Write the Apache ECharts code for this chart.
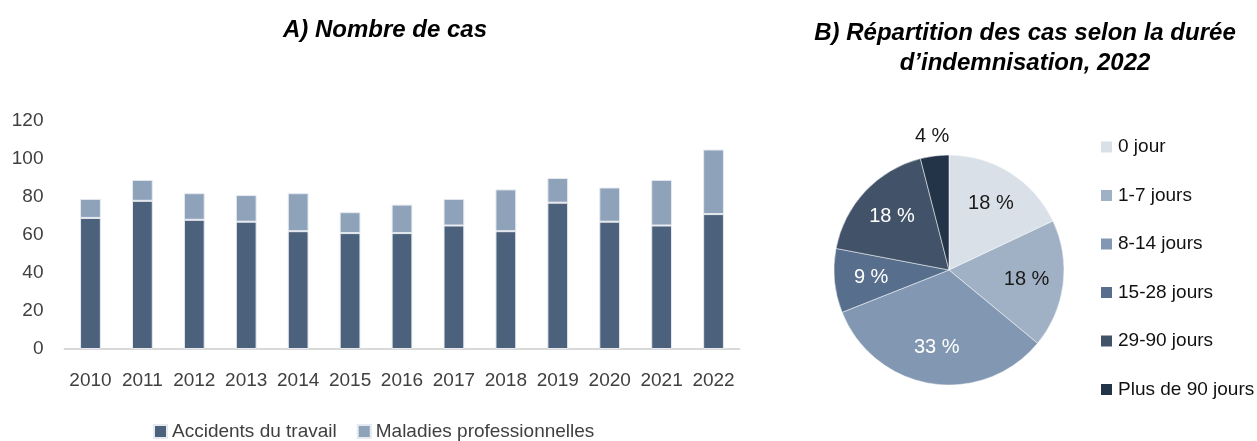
<!DOCTYPE html>
<html>
<head>
<meta charset="utf-8">
<script src="https://cdn.jsdelivr.net/npm/echarts@6/dist/echarts.min.js"></script>
<style>
html, body { margin: 0; padding: 0; background: #fff; }
#chart { width: 1257px; height: 441px; }
</style>
</head>
<body>
<div id="chart"></div>
<script>
// A) nombre de cas
const years = ['2010', '2011', '2012', '2013', '2014', '2015', '2016', '2017', '2018', '2019', '2020', '2021', '2022'];
const accidents = [69, 78, 68, 67, 62, 61, 61, 65, 62, 77, 67, 65, 71];
const maladies = [10, 11, 14, 14, 20, 11, 15, 14, 22, 13, 18, 24, 34];

// B) répartition 2022
const durees = ['0 jour', '1-7 jours', '8-14 jours', '15-28 jours', '29-90 jours', 'Plus de 90 jours'];
const parts = [18, 18, 33, 9, 18, 4];

const FONT = '"Liberation Sans", Arial, sans-serif';
const pieColors = ['#dae0e8', '#a0b1c5', '#8298b2', '#576e8d', '#425269', '#233348'];
const labelColors = ['#1a1a1a', '#1a1a1a', '#ffffff', '#ffffff', '#ffffff', '#1a1a1a'];
const PIE_CX = 949, PIE_CY = 270, PIE_R = 115;

let myEchart = echarts.init(document.getElementById('chart'));
myEchart.setOption({
    animation: false,
    textStyle: { fontFamily: FONT },
    title: [
        {
            text: 'A) Nombre de cas',
            left: 380, top: 13, textAlign: 'center',
            textStyle: { fontFamily: FONT, fontSize: 24, fontWeight: 'bold', fontStyle: 'italic', color: '#000' }
        },
        {
            text: 'B) Répartition des cas selon la durée\nd\u2019indemnisation, 2022',
            left: 1020, top: 13, textAlign: 'center',
            textStyle: { fontFamily: FONT, fontSize: 24, lineHeight: 30, fontWeight: 'bold', fontStyle: 'italic', color: '#000' }
        }
    ],
    legend: [
        {
            data: ['Accidents du travail', 'Maladies professionnelles'],
            left: 148, top: 417,
            itemWidth: 13, itemHeight: 13, itemGap: 20, icon: 'rect',
            textStyle: { fontFamily: FONT, fontSize: 19, color: '#404040' }
        },
        {
            data: durees,
            orient: 'vertical', left: 1094, top: 131,
            itemWidth: 13, itemHeight: 13, itemGap: 26.5, icon: 'rect',
            textStyle: { fontFamily: FONT, fontSize: 19, lineHeight: 22, color: '#111' }
        }
    ],
    grid: { left: 64.5, right: 517.5, top: 121, bottom: 92, containLabel: false },
    xAxis: {
        type: 'category',
        data: years,
        axisLine: { lineStyle: { color: '#d9d9d9', width: 2 } },
        axisTick: { show: false },
        axisLabel: { fontFamily: FONT, fontSize: 19, color: '#404040', margin: 22, interval: 0 }
    },
    yAxis: {
        type: 'value',
        min: 0, max: 120, interval: 20,
        splitLine: { show: false },
        axisLine: { show: false },
        axisLabel: { fontFamily: FONT, fontSize: 19, color: '#404040', margin: 21 }
    },
    series: [
        {
            name: 'Accidents du travail',
            type: 'bar', stack: 'cas', barWidth: '40%',
            itemStyle: { color: '#4c617b', borderColor: '#e6eaf0', borderWidth: 1 },
            data: accidents
        },
        {
            name: 'Maladies professionnelles',
            type: 'bar', stack: 'cas', barWidth: '40%',
            itemStyle: { color: '#8ea2ba', borderColor: '#e6eaf0', borderWidth: 1 },
            data: maladies
        },
        {
            name: 'Durée',
            type: 'pie',
            center: [PIE_CX, PIE_CY],
            radius: PIE_R,
            startAngle: 90,
            clockwise: true,
            itemStyle: { borderColor: '#ffffff', borderWidth: 0.5 },
            label: {
                position: 'inside',
                formatter: p => p.value + ' %',
                fontFamily: FONT, fontSize: 20
            },
            labelLine: { show: false },
            // Excel-like label placement: further out than the ECharts default
            labelLayout: function (params) {
                const i = params.dataIndex;
                const total = parts.reduce((a, b) => a + b, 0);
                let before = 0;
                for (let k = 0; k < i; k++) before += parts[k];
                const mid = (before + parts[i] / 2) / total * Math.PI * 2;
                const f = parts[i] < 5 ? 1.17 : 0.68;
                return {
                    x: PIE_CX + f * PIE_R * Math.sin(mid),
                    y: PIE_CY - f * PIE_R * Math.cos(mid),
                    align: 'center',
                    verticalAlign: 'middle'
                };
            },
            data: durees.map((d, i) => ({
                name: d,
                value: parts[i],
                itemStyle: { color: pieColors[i] },
                label: { color: labelColors[i] }
            }))
        }
    ]
});
window.addEventListener('resize', function () {
    myEchart.resize();
});
</script>
</body>
</html>
